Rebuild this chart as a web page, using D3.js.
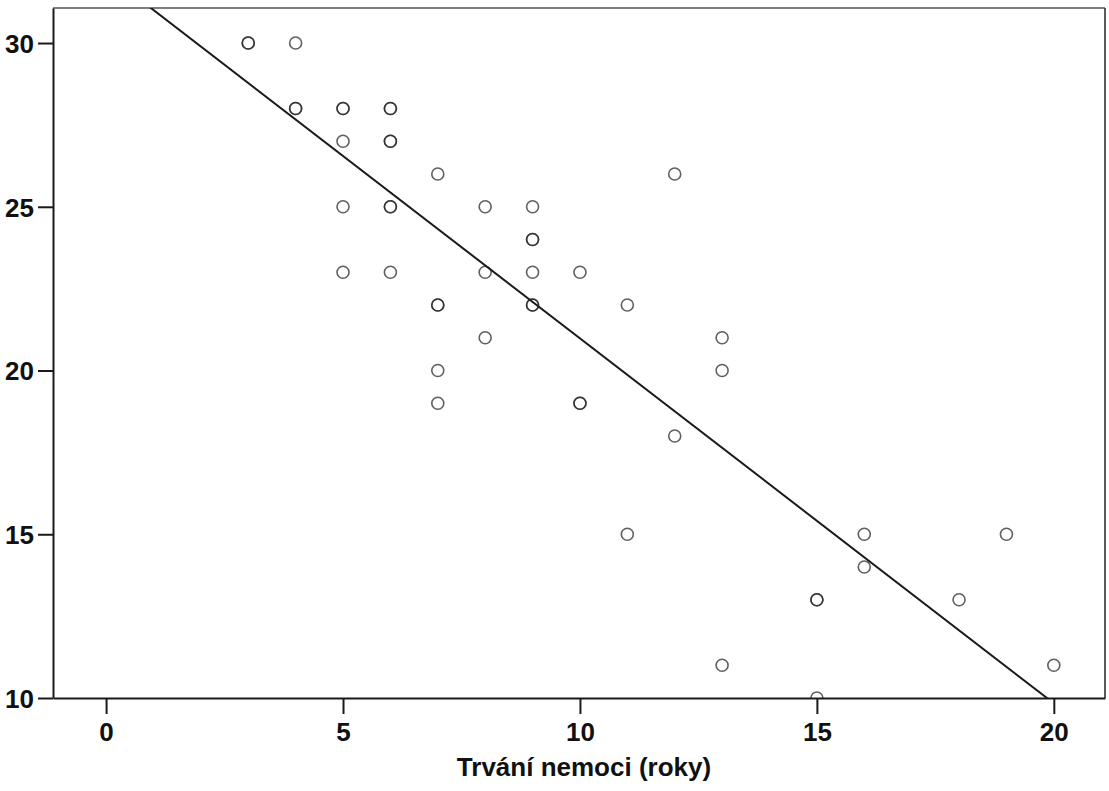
<!DOCTYPE html>
<html>
<head>
<meta charset="utf-8">
<script src="https://cdn.jsdelivr.net/npm/d3@7/dist/d3.min.js"></script>
<style>
  html, body { margin: 0; padding: 0; background: #fff; }
  svg { display: block; }
</style>
</head>
<body>
<svg id="chart" width="1109" height="791"></svg>
<script>
// Disease duration (years) vs. score, one entry per patient
const durationYears = [3, 3, 4, 4, 4, 5, 5, 6, 6, 5, 6, 6, 7, 12, 5, 6, 6, 8, 9, 9, 9, 5, 6, 8, 9, 10,
  7, 7, 9, 9, 11, 8, 13, 7, 13, 7, 10, 10, 12, 11, 16, 19, 16, 15, 15, 18, 13, 20, 15];
const scores = [30, 30, 30, 28, 28, 28, 28, 28, 28, 27, 27, 27, 26, 26, 25, 25, 25, 25, 25, 24, 24, 23, 23, 23, 23, 23,
  22, 22, 22, 22, 22, 21, 21, 20, 20, 19, 19, 19, 18, 15, 15, 15, 14, 13, 13, 13, 11, 11, 10];
const xTicks = [0, 5, 10, 15, 20];
const yTicks = [10, 15, 20, 25, 30];
const xTitle = "Trvání nemoci (roky)";

const narrowFont = '"Liberation Sans Narrow", "Liberation Sans", Arial, sans-serif';
const titleFont = '"Liberation Sans", Arial, sans-serif';

const svg = d3.select("#chart");
const frame = { left: 53, top: 8, right: 1105, bottom: 698 };

const x = d3.scaleLinear().domain([-1.12, 21.08]).range([frame.left, frame.right]);
const y = d3.scaleLinear().domain([10, 31.07]).range([frame.bottom, frame.top]);

// plot frame: top and right edges
svg.append("line").attr("x1", frame.left).attr("x2", frame.right).attr("y1", frame.top).attr("y2", frame.top)
  .attr("stroke", "#555").attr("stroke-width", 1.6);
svg.append("line").attr("x1", frame.right).attr("x2", frame.right).attr("y1", frame.top).attr("y2", frame.bottom)
  .attr("stroke", "#333").attr("stroke-width", 1.6);

svg.append("clipPath").attr("id", "plotClip").append("rect")
  .attr("x", frame.left).attr("y", frame.top)
  .attr("width", frame.right - frame.left).attr("height", frame.bottom - frame.top);

// least-squares fit line
const pts = durationYears.map((d, i) => [d, scores[i]]);
const mx = d3.mean(durationYears), my = d3.mean(scores);
const sxy = d3.sum(pts, p => (p[0] - mx) * (p[1] - my));
const sxx = d3.sum(pts, p => (p[0] - mx) ** 2);
const slope = sxy / sxx, intercept = my - slope * mx;
const [x0, x1] = x.domain();
svg.append("line")
  .attr("clip-path", "url(#plotClip)")
  .attr("x1", x(x0)).attr("y1", y(intercept + slope * x0))
  .attr("x2", x(x1)).attr("y2", y(intercept + slope * x1))
  .attr("stroke", "#1a1a1a").attr("stroke-width", 2);

// points
svg.append("g").attr("clip-path", "url(#plotClip)")
  .selectAll("circle").data(pts).join("circle")
  .attr("cx", d => x(d[0])).attr("cy", d => y(d[1]))
  .attr("r", 6)
  .attr("fill", "none")
  .attr("stroke", "#222").attr("stroke-opacity", 0.72).attr("stroke-width", 1.6);

// axes
const xAxis = svg.append("g").attr("transform", `translate(0,${frame.bottom})`)
  .call(d3.axisBottom(x).tickValues(xTicks).tickSize(16).tickPadding(6).tickSizeOuter(0));
const yAxis = svg.append("g").attr("transform", `translate(${frame.left},0)`)
  .call(d3.axisLeft(y).tickValues(yTicks).tickSize(15).tickPadding(4).tickSizeOuter(0));
[xAxis, yAxis].forEach(g => {
  g.attr("font-family", null).attr("font-size", null);
  g.select(".domain").attr("stroke", "#1a1a1a").attr("stroke-width", 2);
  g.selectAll(".tick line").attr("stroke", "#1a1a1a").attr("stroke-width", 2);
  g.selectAll(".tick text")
    .attr("font-family", narrowFont).attr("font-weight", "bold")
    .attr("font-size", 26).attr("fill", "#111");
});
xAxis.selectAll(".tick text").attr("dy", "0.8em");
yAxis.selectAll(".tick text").attr("dy", "0.36em");

svg.append("text")
  .attr("x", 584).attr("y", 776)
  .attr("text-anchor", "middle")
  .attr("font-family", titleFont).attr("font-weight", "bold")
  .attr("font-size", 26).attr("fill", "#111")
  .text(xTitle);
</script>
</body>
</html>
